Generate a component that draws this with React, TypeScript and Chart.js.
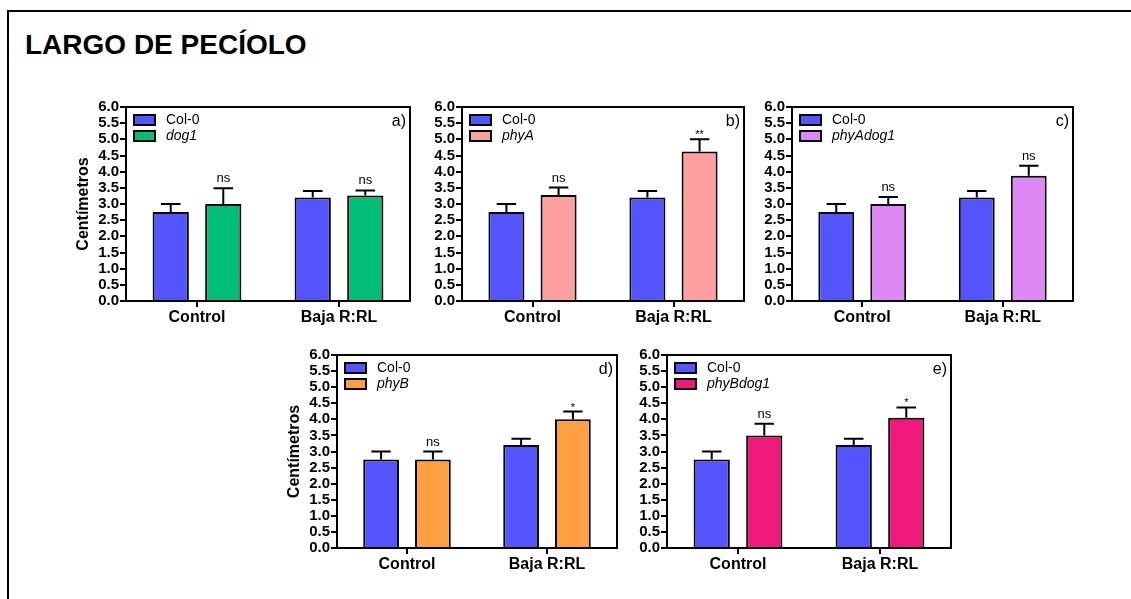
import React, { useEffect, useRef } from "react";
import { Chart, registerables } from "chart.js";

Chart.register(...registerables);

// ---------- DATA ----------
const categories = ["Control", "Baja R:RL"];
const yTicks = [0, 0.5, 1, 1.5, 2, 2.5, 3, 3.5, 4, 4.5, 5, 5.5, 6];

const col0Means = [2.75, 3.2];
const col0Err = [0.25, 0.2];

const dog1Means = [3.0, 3.26];
const dog1Err = [0.49, 0.16];
const dog1Sig = ["ns", "ns"];

const phyAMeans = [3.28, 4.62];
const phyAErr = [0.23, 0.38];
const phyASig = ["ns", "**"];

const phyAdog1Means = [3.0, 3.87];
const phyAdog1Err = [0.22, 0.31];
const phyAdog1Sig = ["ns", "ns"];

const phyBMeans = [2.75, 4.0];
const phyBErr = [0.25, 0.24];
const phyBSig = ["ns", "*"];

const phyBdog1Means = [3.5, 4.05];
const phyBdog1Err = [0.36, 0.32];
const phyBdog1Sig = ["ns", "*"];

const FONT = "'Liberation Sans', Arial, sans-serif";
const COL0_COLOR = "#5555FF";

type PanelDef = {
  letter: string;
  mutant: string;
  means: number[];
  errs: number[];
  sig: string[];
  color: string;
  L: number;
  T: number;
  W: number;
  H: number;
  yTitle: boolean;
};

const panels: PanelDef[] = [
  { letter: "a)", mutant: "dog1", means: dog1Means, errs: dog1Err, sig: dog1Sig, color: "#00BE78", L: 126, T: 107, W: 284, H: 194, yTitle: true },
  { letter: "b)", mutant: "phyA", means: phyAMeans, errs: phyAErr, sig: phyASig, color: "#FF9F9F", L: 462, T: 107, W: 282, H: 194, yTitle: false },
  { letter: "c)", mutant: "phyAdog1", means: phyAdog1Means, errs: phyAdog1Err, sig: phyAdog1Sig, color: "#DD88F5", L: 792, T: 107, W: 281, H: 194, yTitle: false },
  { letter: "d)", mutant: "phyB", means: phyBMeans, errs: phyBErr, sig: phyBSig, color: "#FFA040", L: 337, T: 355, W: 280, H: 193, yTitle: true },
  { letter: "e)", mutant: "phyBdog1", means: phyBdog1Means, errs: phyBdog1Err, sig: phyBdog1Sig, color: "#F0187A", L: 667, T: 355, W: 284, H: 193, yTitle: false },
];

const PAD_L = 70;
const PAD_T = 10;
const PAD_R = 15;
const PAD_B = 35;

const overlay = {
  id: "overlay",
  afterDatasetsDraw(chart: any, _args: any, opts: any) {
    const { ctx, chartArea: ca, scales } = chart;
    const yScale = scales.y;
    ctx.save();
    // error bars + significance
    chart.data.datasets.forEach((ds: any, di: number) => {
      const meta = chart.getDatasetMeta(di);
      const errs = opts.errors[di];
      meta.data.forEach((bar: any, i: number) => {
        const { x, y, width } = bar.getProps(["x", "y", "width"], true);
        const yc = yScale.getPixelForValue(ds.data[i] + errs[i]);
        const hw = width * 0.27;
        ctx.strokeStyle = "#000";
        ctx.lineWidth = 2;
        ctx.beginPath();
        ctx.moveTo(x, y);
        ctx.lineTo(x, yc);
        ctx.moveTo(x - hw, yc);
        ctx.lineTo(x + hw, yc);
        ctx.stroke();
        if (di === 1) {
          const s = opts.sig[i];
          ctx.fillStyle = "#000";
          ctx.textAlign = "center";
          ctx.textBaseline = "alphabetic";
          if (s === "ns") {
            ctx.font = `13px ${FONT}`;
            ctx.fillText(s, x, yc - 6);
          } else {
            ctx.font = `11px ${FONT}`;
            ctx.fillText(s, x, yc - 1);
          }
        }
      });
    });
    // plot frame (top and right)
    ctx.strokeStyle = "#000";
    ctx.lineWidth = 2;
    ctx.beginPath();
    ctx.moveTo(ca.left, ca.top);
    ctx.lineTo(ca.right, ca.top);
    ctx.lineTo(ca.right, ca.bottom);
    ctx.stroke();
    // legend
    const items = chart.data.datasets;
    items.forEach((ds: any, di: number) => {
      const bx = ca.left + 8;
      const by = ca.top + 8 + di * 16;
      ctx.fillStyle = ds.backgroundColor;
      ctx.fillRect(bx, by, 21, 10);
      ctx.lineWidth = 2;
      ctx.strokeStyle = "#000";
      ctx.strokeRect(bx, by, 21, 10);
      ctx.fillStyle = "#000";
      ctx.font = `${di === 1 ? "italic " : ""}14px ${FONT}`;
      ctx.textAlign = "left";
      ctx.textBaseline = "middle";
      ctx.fillText(ds.label, ca.left + 40, by + 5);
    });
    // panel letter
    ctx.font = `16px ${FONT}`;
    ctx.textAlign = "right";
    ctx.textBaseline = "middle";
    ctx.fillStyle = "#000";
    ctx.fillText(opts.letter, ca.right - 4, ca.top + 15);
    // y title
    if (opts.yTitle) {
      ctx.save();
      ctx.translate(ca.left - 42, (ca.top + ca.bottom) / 2);
      ctx.rotate(-Math.PI / 2);
      ctx.font = `bold 16px ${FONT}`;
      ctx.textAlign = "center";
      ctx.textBaseline = "middle";
      ctx.fillText("Centímetros", 0, 0);
      ctx.restore();
    }
    ctx.restore();
  },
};

function Panel({ p }: { p: PanelDef }) {
  const ref = useRef<HTMLCanvasElement>(null);
  const cw = PAD_L + p.W + PAD_R;
  const ch = PAD_T + p.H + PAD_B;
  useEffect(() => {
    if (!ref.current) return;
    const chart = new Chart(ref.current, {
      type: "bar",
      data: {
        labels: categories,
        datasets: [
          { label: "Col-0", data: col0Means, backgroundColor: COL0_COLOR, borderColor: "#000", borderWidth: 2 },
          { label: p.mutant, data: p.means, backgroundColor: p.color, borderColor: "#000", borderWidth: 2 },
        ],
      },
      options: {
        responsive: false,
        animation: false,
        devicePixelRatio: 1,
        layout: { padding: { left: 0, top: PAD_T, right: PAD_R, bottom: 0 } },
        datasets: { bar: { categoryPercentage: 0.74, barPercentage: 0.69 } },
        plugins: {
          legend: { display: false },
          tooltip: { enabled: false },
          overlay: {
            errors: [col0Err, p.errs],
            sig: p.sig,
            letter: p.letter,
            yTitle: p.yTitle,
          },
        } as any,
        scales: {
          x: {
            afterFit: (s: any) => { s.height = PAD_B; },
            grid: { display: true, drawOnChartArea: false, drawTicks: true, tickLength: 6, color: "#000", lineWidth: 2, offset: false },
            border: { display: true, color: "#000", width: 2 },
            ticks: { color: "#000", font: { family: FONT, size: 16, weight: "bold" }, padding: 1, maxRotation: 0, autoSkip: false },
          },
          y: {
            min: 0,
            max: 6,
            afterFit: (s: any) => { s.width = PAD_L; },
            afterBuildTicks: (s: any) => { s.ticks = yTicks.map((v) => ({ value: v })); },
            grid: { display: true, drawOnChartArea: false, drawTicks: true, tickLength: 6, color: "#000", lineWidth: 2 },
            border: { display: true, color: "#000", width: 2 },
            ticks: {
              color: "#000",
              font: { family: FONT, size: 15, weight: "bold", lineHeight: 1 },
              padding: 1,
              autoSkip: false,
              callback: (v: any) => Number(v).toFixed(1),
            },
          },
        },
      },
      plugins: [overlay],
    } as any);
    return () => chart.destroy();
  }, []);
  return (
    <canvas
      ref={ref}
      width={cw}
      height={ch}
      style={{ position: "absolute", left: p.L - PAD_L, top: p.T - PAD_T, width: cw, height: ch }}
    />
  );
}

export default function App() {
  return (
    <div style={{ position: "absolute", left: 0, top: 0, width: 1131, height: 599, overflow: "hidden", background: "#fff" }}>
      <div
        style={{
          position: "absolute",
          left: 7,
          top: 10,
          width: 1200,
          height: 700,
          borderTop: "2px solid #000",
          borderLeft: "2px solid #000",
        }}
      />
      <div
        style={{
          position: "absolute",
          left: 25,
          top: 31,
          fontFamily: FONT,
          fontWeight: "bold",
          fontSize: 28,
          lineHeight: "28px",
          color: "#000",
          whiteSpace: "nowrap",
        }}
      >
        LARGO DE PECÍOLO
      </div>
      {panels.map((p) => (
        <Panel key={p.letter} p={p} />
      ))}
    </div>
  );
}
